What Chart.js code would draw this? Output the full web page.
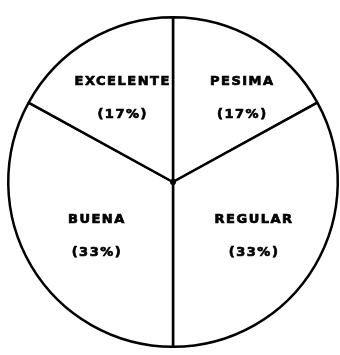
<!DOCTYPE html>
<html>
<head>
<meta charset="utf-8">
<script src="https://cdn.jsdelivr.net/npm/chart.js@4"></script>
<style>
  body { margin: 0; background: #fff; }
</style>
</head>
<body>
<canvas id="chart" width="340" height="355"></canvas>
<script>
const categories = ["PESIMA", "REGULAR", "BUENA", "EXCELENTE"];
const percents = [17, 33, 33, 17];

// small hand nudges so the text sits where it does on the scan
const labelNudge = [[19, 1], [-4, 3], [9, 3], [0, 1]];

const sliceLabels = {
    id: "sliceLabels",
    afterDatasetsDraw(chart) {
        const ctx = chart.ctx;
        const arcs = chart.getDatasetMeta(0).data;
        ctx.save();
        ctx.fillStyle = "#000";
        ctx.strokeStyle = "#000";
        ctx.lineWidth = 0.7;
        ctx.textAlign = "center";
        ctx.textBaseline = "middle";
        ctx.font = "bold 13px 'DejaVu Sans'";
        ctx.letterSpacing = "1.5px";
        arcs.forEach((arc, i) => {
            const mid = (arc.startAngle + arc.endAngle) / 2;
            const r = arc.outerRadius * 0.6;
            const x = arc.x + Math.cos(mid) * r + labelNudge[i][0];
            const y = arc.y + Math.sin(mid) * r + labelNudge[i][1];
            const lines = [categories[i], "(" + percents[i] + "%)"];
            lines.forEach((t, k) => {
                const ty = y + (k === 0 ? -16 : 17);
                ctx.fillText(t, x, ty);
                ctx.strokeText(t, x, ty);
            });
        });
        // dot where the lines meet
        const a = arcs[0];
        ctx.beginPath();
        ctx.arc(a.x, a.y, 3, 0, Math.PI * 2);
        ctx.fill();
        ctx.restore();
    },
};

new Chart(document.getElementById("chart"), {
    type: "pie",
    data: {
        labels: categories,
        datasets: [
            {
                data: percents,
                backgroundColor: "#fff",
                borderColor: "#000",
                borderWidth: 2.5,
            },
        ],
    },
    options: {
        responsive: false,
        animation: false,
        layout: { padding: { left: 7, right: 1, top: 16, bottom: 7 } },
        plugins: {
            legend: { display: false },
            tooltip: { enabled: false },
        },
    },
    plugins: [sliceLabels],
});
</script>
</body>
</html>
